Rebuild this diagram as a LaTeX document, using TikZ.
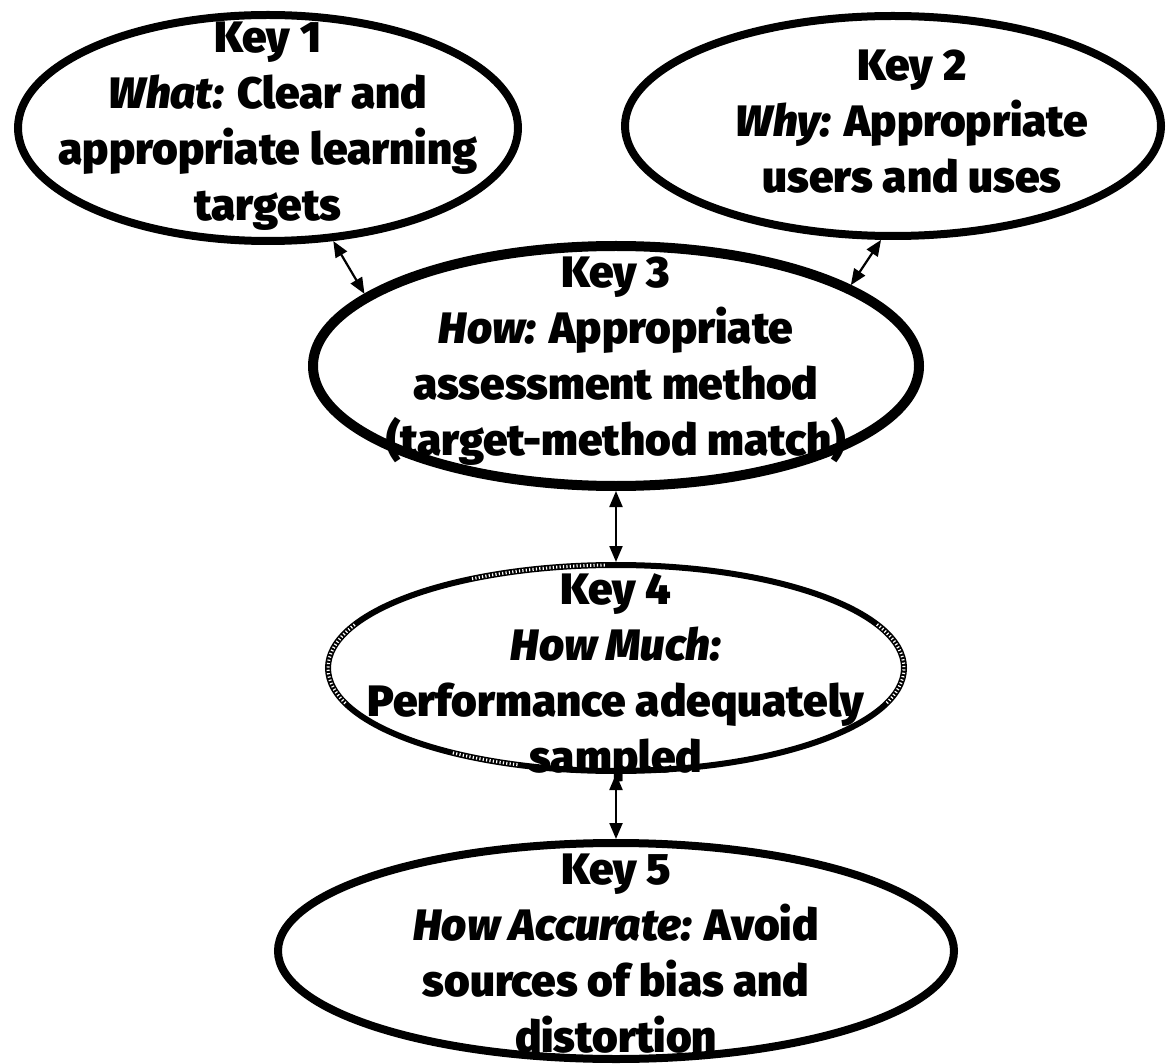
\documentclass[tikz,border=0pt]{standalone}
\usepackage{fontspec}
\setmainfont{Fira Sans}[UprightFont={* Black}, ItalicFont={* Black Italic}, BoldFont={* Black}]
\usetikzlibrary{shapes.geometric,arrows.meta}
\tikzset{
  keyell/.style={draw, ellipse, inner sep=0pt, fill=none},
  keytxt/.style={align=center, font=\fontsize{44}{56}\selectfont, inner sep=0pt},
  link/.style={line width=2.2pt, {Triangle[length=16pt,width=13pt]}-{Triangle[length=16pt,width=13pt]}},
  speckle/.style={white, line width=3pt, dash pattern=on 1.2pt off 2.2pt}
}
\begin{document}
\begin{tikzpicture}[x=1pt,y=-1pt]
\useasboundingbox (0,0) rectangle (1170,1064);
\node[keyell, line width=8pt, minimum width=500pt, minimum height=226pt] (e1) at (268,128) {};
\node[keyell, line width=8pt, minimum width=536pt, minimum height=220pt] (e2) at (893,126) {};
\node[keyell, line width=10pt, minimum width=606pt, minimum height=240pt] (e3) at (616,366) {};
\node[keyell, line width=6pt, minimum width=576pt, minimum height=206pt] (e4) at (616,668) {};
\node[keyell, line width=8pt, minimum width=676pt, minimum height=216pt] (e5) at (616,951) {};

% scan speckle on the border of Key 4
\draw[speckle] ([shift={(160:288 and 103)}]e4.center) arc[start angle=160, end angle=205, x radius=288, y radius=103];
\draw[speckle] ([shift={(-25:288 and 103)}]e4.center) arc[start angle=-25, end angle=20, x radius=288, y radius=103];
\draw[speckle] ([shift={(240:288 and 103)}]e4.center) arc[start angle=240, end angle=268, x radius=288, y radius=103];
\draw[speckle] ([shift={(110:288 and 103)}]e4.center) arc[start angle=110, end angle=125, x radius=288, y radius=103];

\node[keytxt] (t1) at (268,126) {Key 1\\\textit{What:} Clear and\\appropriate learning\\targets};
\node[keytxt] (t2) at (912,122) {Key 2\\\textit{Why:} Appropriate\\users and uses};
\node[keytxt] (t3) at (616,361) {Key 3\\\textit{How:} Appropriate\\assessment method\\(target-method match)};
\node[keytxt] (t4) at (616,678) {Key 4\\\textit{How Much:}\\Performance adequately\\sampled};
\node[keytxt] (t5) at (616,954) {Key 5\\\textit{How Accurate:} Avoid\\sources of bias and\\distortion};

\draw[link] (e1.-60) -- (e3.164);
\draw[link] (e2.-96) -- (e3.19);
\draw[link] (e3.south) -- (e4.north);
\draw[link] (e4.south) -- (e5.north);
\end{tikzpicture}
\end{document}
